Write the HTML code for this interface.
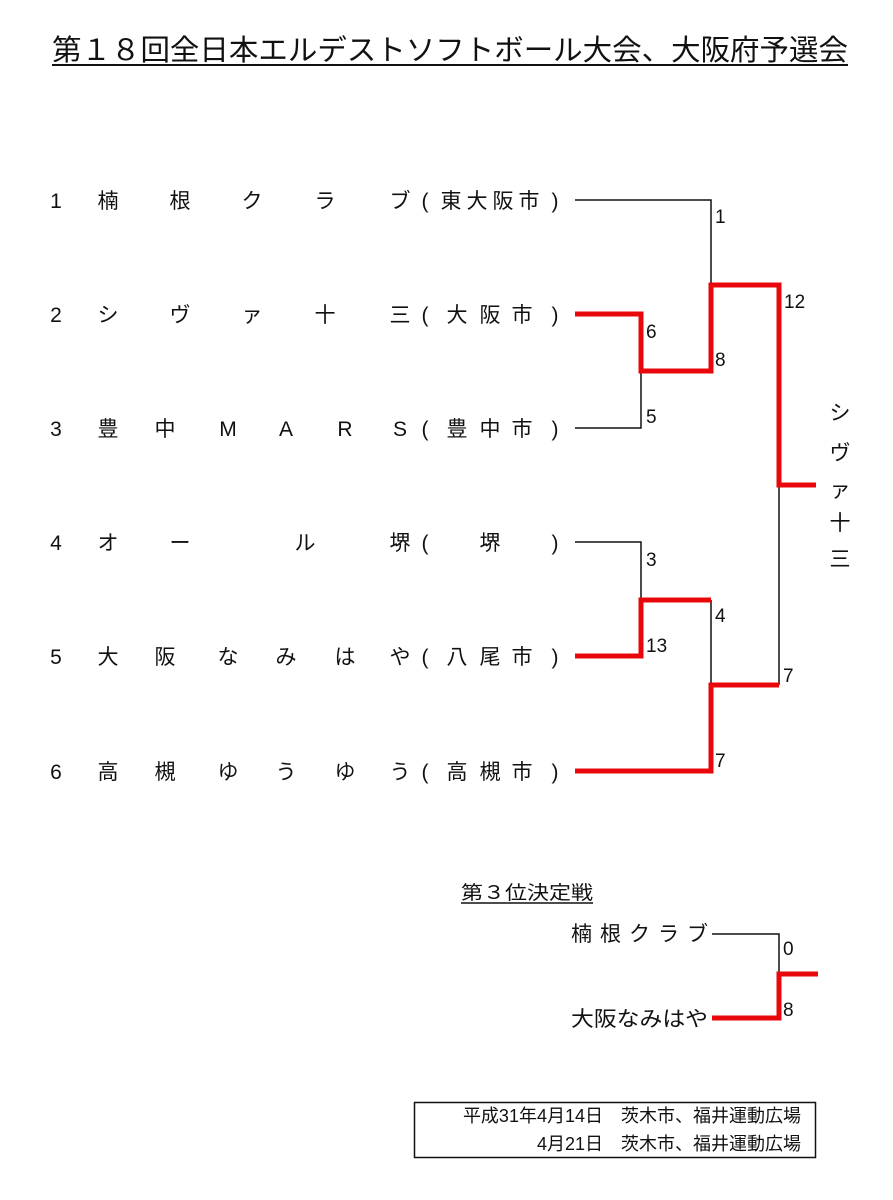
<!DOCTYPE html>
<html><head><meta charset="utf-8"><style>
html,body{margin:0;padding:0;background:#fff;}
svg{display:block;}
text{font-family:"Liberation Sans","Noto Sans CJK JP",sans-serif;fill:#111;}
</style></head><body>
<svg width="893" height="1200" viewBox="0 0 893 1200" xmlns="http://www.w3.org/2000/svg">
<text x="52" y="60" font-size="29" textLength="796" lengthAdjust="spacingAndGlyphs">第１８回全日本エルデストソフトボール大会、大阪府予選会</text>
<line x1="52" y1="65" x2="848" y2="65" stroke="#111" stroke-width="2"/>

<g font-size="21" text-anchor="middle">
<text x="56" y="208">1</text>
<text x="108" y="208">楠</text><text x="180" y="208">根</text><text x="252" y="208">ク</text><text x="325" y="208">ラ</text><text x="400" y="208">ブ</text>
<text x="425" y="208">(</text><text x="451" y="208">東</text><text x="477" y="208">大</text><text x="503" y="208">阪</text><text x="529" y="208">市</text><text x="555" y="208">)</text>
<text x="56" y="322">2</text>
<text x="108" y="322">シ</text><text x="180" y="322">ヴ</text><text x="252" y="322">ァ</text><text x="325" y="322">十</text><text x="400" y="322">三</text>
<text x="425" y="322">(</text><text x="457" y="322">大</text><text x="490" y="322">阪</text><text x="522" y="322">市</text><text x="555" y="322">)</text>
<text x="56" y="436">3</text>
<text x="108" y="436">豊</text><text x="165" y="436">中</text><text x="228" y="436">M</text><text x="286" y="436">A</text><text x="345" y="436">R</text><text x="400" y="436">S</text>
<text x="425" y="436">(</text><text x="457" y="436">豊</text><text x="490" y="436">中</text><text x="522" y="436">市</text><text x="555" y="436">)</text>
<text x="56" y="550">4</text>
<text x="108" y="550">オ</text><text x="180" y="550">ー</text><text x="305" y="550">ル</text><text x="400" y="550">堺</text>
<text x="425" y="550">(</text><text x="490" y="550">堺</text><text x="555" y="550">)</text>
<text x="56" y="664">5</text>
<text x="108" y="664">大</text><text x="165" y="664">阪</text><text x="228" y="664">な</text><text x="286" y="664">み</text><text x="345" y="664">は</text><text x="400" y="664">や</text>
<text x="425" y="664">(</text><text x="457" y="664">八</text><text x="490" y="664">尾</text><text x="522" y="664">市</text><text x="555" y="664">)</text>
<text x="56" y="779">6</text>
<text x="108" y="779">高</text><text x="165" y="779">槻</text><text x="228" y="779">ゆ</text><text x="286" y="779">う</text><text x="345" y="779">ゆ</text><text x="400" y="779">う</text>
<text x="425" y="779">(</text><text x="457" y="779">高</text><text x="490" y="779">槻</text><text x="522" y="779">市</text><text x="555" y="779">)</text>

<text x="840" y="420">シ</text><text x="840" y="460">ヴ</text><text x="840" y="497">ァ</text><text x="840" y="530">十</text><text x="840" y="566">三</text>
</g>

<g fill="none" stroke="#111" stroke-width="1.5">
<polyline points="575,200 711,200 711,285"/>
<polyline points="641,371 641,428 575,428"/>
<polyline points="575,542 641,542 641,600"/>
<polyline points="711,600 711,685"/>
<polyline points="779,485 779,685"/>
<polyline points="712,934 779,934 779,974"/>
</g>
<g fill="none" stroke="#e8080c" stroke-width="5" stroke-linejoin="miter">
<polyline points="575,314 641,314 641,371 711,371 711,285 779,285 779,485 816,485"/>
<polyline points="575,656 641,656 641,600 711,600"/>
<polyline points="575,771 711,771 711,685 779,685"/>
<polyline points="712,1018 779,1018 779,974 818,974"/>
</g>

<g font-size="19">
<text x="715" y="223">1</text>
<text x="784" y="308">12</text>
<text x="646" y="338">6</text>
<text x="715" y="366">8</text>
<text x="646" y="423">5</text>
<text x="646" y="566">3</text>
<text x="715" y="622">4</text>
<text x="646" y="652">13</text>
<text x="783" y="682">7</text>
<text x="715" y="767">7</text>
<text x="783" y="955">0</text>
<text x="783" y="1016">8</text>
</g>

<text x="461" y="899" font-size="19" textLength="132" lengthAdjust="spacingAndGlyphs">第３位決定戦</text>
<line x1="461" y1="903" x2="593" y2="903" stroke="#111" stroke-width="1.5"/>
<text x="571" y="941" font-size="21" textLength="137" lengthAdjust="spacing">楠根クラブ</text>
<text x="571" y="1026" font-size="21" textLength="137" lengthAdjust="spacingAndGlyphs">大阪なみはや</text>

<rect x="414.5" y="1102.5" width="401" height="55" fill="none" stroke="#111" stroke-width="1.5"/>
<g font-size="18" text-anchor="end">
<text x="801" y="1122">平成31年4月14日　茨木市、福井運動広場</text>
<text x="801" y="1150">4月21日　茨木市、福井運動広場</text>
</g>
</svg>
</body></html>
